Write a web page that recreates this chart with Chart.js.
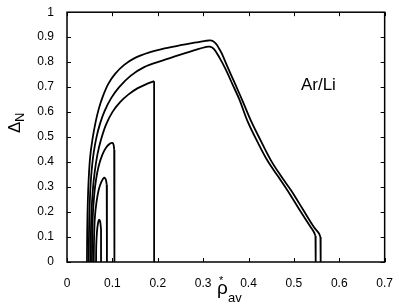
<!DOCTYPE html>
<html>
<head>
<meta charset="utf-8">
<script src="https://cdn.jsdelivr.net/npm/chart.js@4/dist/chart.umd.min.js"></script>
<style>
  html,body{margin:0;padding:0;background:#fff;}
  canvas{display:block;}
</style>
</head>
<body>
<canvas id="c" width="399" height="308"></canvas>
<script>
// tick values
const xTicks = [0, 0.1, 0.2, 0.3, 0.4, 0.5, 0.6, 0.7];
const yTicks = [0, 0.1, 0.2, 0.3, 0.4, 0.5, 0.6, 0.7, 0.8, 0.9, 1];

// each curve: smooth arc (x, y) + x where it drops straight to zero
// curve A (outer, widest)
const aX = [0.044,0.0445,0.046,0.048,0.051,0.056,0.063,0.070,0.079,0.091,0.106,0.126,0.150,0.180,0.215,0.250,0.285,0.305,0.315,0.322,0.329,0.335,0.341,0.355,0.370,0.388,0.406,0.428,0.450,0.472,0.494,0.520,0.544,0.555,0.5585];
const aY = [0,0.12,0.25,0.34,0.42,0.49,0.56,0.613,0.663,0.713,0.753,0.789,0.817,0.838,0.855,0.868,0.879,0.885,0.887,0.884,0.872,0.855,0.835,0.776,0.715,0.64,0.563,0.482,0.405,0.343,0.286,0.21,0.14,0.115,0.1];
const aDrop = 0.559;
// curve B
const bX = [0.048,0.0485,0.050,0.052,0.055,0.059,0.065,0.073,0.083,0.097,0.115,0.140,0.170,0.210,0.250,0.285,0.305,0.315,0.324,0.336,0.350,0.365,0.380,0.398,0.420,0.442,0.465,0.486,0.512,0.535,0.544,0.5475];
const bY = [0,0.12,0.23,0.31,0.38,0.44,0.50,0.555,0.605,0.655,0.70,0.745,0.78,0.806,0.830,0.850,0.860,0.862,0.852,0.818,0.77,0.71,0.65,0.563,0.48,0.405,0.343,0.286,0.21,0.145,0.12,0.105];
const bDrop = 0.548;
// curve C
const cX = [0.052,0.0525,0.054,0.057,0.061,0.067,0.075,0.086,0.100,0.117,0.135,0.155,0.175,0.192];
const cY = [0,0.1,0.2,0.29,0.36,0.43,0.49,0.55,0.60,0.64,0.67,0.695,0.712,0.724];
const cDrop = 0.192;
// curve D
const dX = [0.055,0.0556,0.057,0.060,0.064,0.070,0.078,0.087,0.095,0.100,0.1025,0.104];
const dY = [0,0.1,0.19,0.27,0.33,0.385,0.43,0.46,0.474,0.477,0.47,0.45];
const dDrop = 0.1045;
// curve E
const eX = [0.059,0.0597,0.0615,0.065,0.070,0.076,0.082,0.0855,0.0875];
const eY = [0,0.1,0.18,0.24,0.29,0.322,0.338,0.33,0.31];
const eDrop = 0.088;
// curve F
const fX = [0.064,0.0645,0.066,0.068,0.0705,0.073,0.0745];
const fY = [0,0.07,0.12,0.152,0.169,0.162,0.14];
const fDrop = 0.075;

const curves = [[aX,aY,aDrop],[bX,bY,bDrop],[cX,cY,cDrop],[dX,dY,dDrop],[eX,eY,eDrop],[fX,fY,fDrop]];

const fmt = v => (Math.round(v*10)/10).toString();

const datasets = [];
curves.forEach(([xv, yv, drop]) => {
  const pts = xv.map((x, i) => ({x, y: yv[i]}));
  const last = pts[pts.length - 1];
  datasets.push({data: pts, showLine: true, borderColor: "#000", borderWidth: 1.8,
    pointRadius: 0, tension: 0.35, fill: false});
  datasets.push({data: [last, {x: drop, y: last.y - 0.01}, {x: drop, y: 0}], showLine: true,
    borderColor: "#000", borderWidth: 1.8, pointRadius: 0, tension: 0, fill: false});
});

const framePlugin = {
  id: "frame",
  afterDraw(chart) {
    const ctx = chart.ctx, a = chart.chartArea;
    const xs = chart.scales.x, ys = chart.scales.y;
    ctx.save();
    ctx.strokeStyle = "#000";
    ctx.lineWidth = 1.5;
    ctx.strokeRect(a.left, a.top, a.right - a.left, a.bottom - a.top);
    ctx.lineWidth = 1;
    ctx.beginPath();
    xTicks.forEach(v => {
      const p = Math.round(xs.getPixelForValue(v)) + 0.5;
      ctx.moveTo(p, a.bottom); ctx.lineTo(p, a.bottom - 4);
      ctx.moveTo(p, a.top); ctx.lineTo(p, a.top + 4);
    });
    yTicks.forEach(v => {
      const p = Math.round(ys.getPixelForValue(v)) + 0.5;
      ctx.moveTo(a.left, p); ctx.lineTo(a.left + 4, p);
      ctx.moveTo(a.right, p); ctx.lineTo(a.right - 4, p);
    });
    ctx.stroke();

    ctx.fillStyle = "#000";
    // label inside plot
    ctx.font = "17px 'Liberation Sans', Arial, sans-serif";
    ctx.textAlign = "center"; ctx.textBaseline = "middle";
    ctx.fillText("Ar/Li", xs.getPixelForValue(0.554), ys.getPixelForValue(0.706));

    // x title: rho*_av
    ctx.textAlign = "left"; ctx.textBaseline = "alphabetic";
    ctx.font = "19px 'Liberation Sans', Arial, sans-serif";
    ctx.fillText("ρ", 217, 294);
    ctx.font = "13px 'Liberation Sans', Arial, sans-serif";
    ctx.fillText("av", 228, 302);
    ctx.font = "11px 'Liberation Sans', Arial, sans-serif";
    ctx.fillText("*", 219, 284);

    // y title: Delta_N
    ctx.translate(20, 133);
    ctx.rotate(-Math.PI/2);
    ctx.font = "17px 'Liberation Sans', Arial, sans-serif";
    ctx.fillText("Δ", 0, 0);
    ctx.font = "13px 'Liberation Sans', Arial, sans-serif";
    ctx.fillText("N", 11, 4);
    ctx.restore();
  }
};

new Chart(document.getElementById("c"), {
  type: "scatter",
  data: {datasets},
  options: {
    responsive: false, animation: false, devicePixelRatio: 1,
    layout: {padding: {top: 10, right: 11, left: 0, bottom: 0}},
    plugins: {legend: {display: false}, tooltip: {enabled: false}},
    scales: {
      x: {
        type: "linear", min: 0, max: 0.7,
        grid: {display: false}, border: {display: false},
        afterBuildTicks: s => { s.ticks = xTicks.map(v => ({value: v})); },
        afterFit: s => { s.height = 46; },
        ticks: {padding: 6, color: "#000", maxRotation: 0, callback: v => fmt(v),
          font: {family: "'Liberation Sans', Arial, sans-serif", size: 12}}
      },
      y: {
        type: "linear", min: 0, max: 1,
        grid: {display: false}, border: {display: false},
        afterBuildTicks: s => { s.ticks = yTicks.map(v => ({value: v})); },
        afterFit: s => { s.width = 67; },
        ticks: {padding: 5, color: "#000", callback: v => fmt(v),
          font: {family: "'Liberation Sans', Arial, sans-serif", size: 12}}
      }
    }
  },
  plugins: [framePlugin]
});
</script>
</body>
</html>
